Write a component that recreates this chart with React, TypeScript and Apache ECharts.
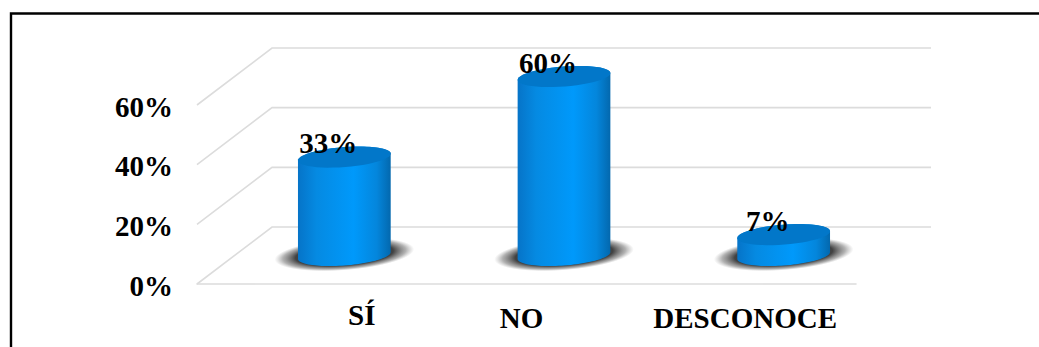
import React, { useEffect, useRef } from "react";
import * as echarts from "echarts";

const categories = ["SÍ", "NO", "DESCONOCE"];
const shares = [33, 60, 7];
const yTicks = [0, 20, 40, 60];

const WIDTH = 1039;
const HEIGHT = 347;
const FONT = '"Liberation Serif", "Times New Roman", serif';

// Oblique projection of the chart's depth: the back wall sits up and to the right.
const DEPTH_X = 75;
const DEPTH_Y = 57;
const RX = 46.5;
const RY = 10;
const TILT = (-4.4 * Math.PI) / 180;

// A point on the tilted ellipse that forms a cylinder's cap or base.
function ellipsePoint(cx: number, cy: number, t: number): number[] {
  const ex = RX * Math.cos(t);
  const ey = RY * Math.sin(t);
  return [
    cx + ex * Math.cos(TILT) - ey * Math.sin(TILT),
    cy + ex * Math.sin(TILT) + ey * Math.cos(TILT),
  ];
}

function arcPoints(cx: number, cy: number, from: number, to: number): number[][] {
  const steps = 48;
  const pts: number[][] = [];
  for (let i = 0; i <= steps; i++) {
    pts.push(ellipsePoint(cx, cy, from + ((to - from) * i) / steps));
  }
  return pts;
}

const bodyFill = {
  type: "linear",
  x: 0,
  y: 0,
  x2: 1,
  y2: 0,
  colorStops: [
    { offset: 0, color: "#0674c8" },
    { offset: 0.2, color: "#058ae2" },
    { offset: 0.6, color: "#0099fb" },
    { offset: 0.85, color: "#0486dc" },
    { offset: 1, color: "#0368ae" },
  ],
};

const shadowFill = {
  type: "radial",
  x: 0.5,
  y: 0.5,
  r: 0.5,
  colorStops: [
    { offset: 0, color: "rgba(30,30,30,0.95)" },
    { offset: 0.7, color: "rgba(50,50,50,0.92)" },
    { offset: 0.88, color: "rgba(100,100,100,0.5)" },
    { offset: 1, color: "rgba(140,140,140,0)" },
  ],
};

// Floor, side wall and back wall lines for one tick of the value axis.
function renderWallLine(params: any, api: any) {
  const y = api.coord([0, api.value(1)])[1];
  const sys = params.coordSys;
  return {
    type: "polyline",
    shape: {
      points: [
        [sys.x, y],
        [sys.x + DEPTH_X, y - DEPTH_Y],
        [sys.x + sys.width + DEPTH_X, y - DEPTH_Y],
      ],
    },
    style: { stroke: "#dcdcdc", lineWidth: 1.6, fill: "none" },
  };
}

function renderCylinder(_params: any, api: any) {
  const value = api.value(1);
  const top = api.coord([api.value(0), value]);
  const base = api.coord([api.value(0), 0]);
  const cx = base[0] + DEPTH_X / 2;
  const baseY = base[1] - DEPTH_Y / 2;
  const topY = top[1] - DEPTH_Y / 2;
  const body = [
    ...arcPoints(cx, baseY, 0, Math.PI),
    ...arcPoints(cx, topY, Math.PI, 2 * Math.PI),
  ];
  return {
    type: "group",
    children: [
      {
        type: "ellipse",
        originX: cx,
        originY: baseY - 1,
        rotation: -TILT,
        shape: { cx: cx, cy: baseY - 1, rx: 70, ry: 16 },
        style: { fill: shadowFill },
      },
      { type: "polygon", shape: { points: body }, style: { fill: bodyFill } },
      {
        type: "polygon",
        shape: { points: arcPoints(cx, topY, 0, 2 * Math.PI) },
        style: { fill: "#0277c9" },
      },
      {
        type: "text",
        style: {
          x: cx - 16,
          y: topY - 14,
          text: value + "%",
          font: "bold 29px " + FONT,
          fill: "#000",
          align: "center",
          verticalAlign: "middle",
        },
      },
    ],
  };
}

const labelStyle = { fontFamily: FONT, fontWeight: "bold", fontSize: 29, color: "#000" };

export default function App() {
  const ref = useRef<HTMLDivElement>(null);

  useEffect(() => {
    if (!ref.current) return;
    const chart = echarts.init(ref.current, undefined, { renderer: "svg" });
    chart.setOption({
      animation: false,
      backgroundColor: "#fff",
      grid: { left: 197, top: 105, width: 659, height: 179 },
      graphic: [
        {
          type: "polyline",
          silent: true,
          shape: {
            points: [
              [11, HEIGHT],
              [11, 13.5],
              [WIDTH, 13.5],
            ],
          },
          style: { stroke: "#000", lineWidth: 2.4, fill: "none" },
        },
      ],
      xAxis: {
        type: "category",
        data: categories,
        axisLine: { show: true, lineStyle: { color: "#dcdcdc", width: 1.6 } },
        axisTick: { show: false },
        axisLabel: {
          interval: 0,
          margin: 16,
          formatter: (name: string) => {
            const key = ["si", "no", "desc"][categories.indexOf(name)];
            return "{" + key + "|" + name + "}";
          },
          rich: {
            si: { ...labelStyle, padding: [0, 0, 0, 110] },
            no: { ...labelStyle, padding: [3, 10, 0, 0] },
            desc: { ...labelStyle, padding: [3, 2, 0, 0] },
          },
        },
      },
      yAxis: {
        type: "value",
        min: 0,
        max: 60,
        interval: 20,
        axisLine: { show: false },
        axisTick: { show: false },
        splitLine: { show: false },
        axisLabel: {
          margin: 24,
          formatter: (value: number) => "{tick|" + value + "%}",
          rich: { tick: { ...labelStyle, padding: [3, 0, 0, 0] } },
        },
      },
      series: [
        {
          type: "custom",
          silent: true,
          clip: false,
          renderItem: renderWallLine,
          data: yTicks.map((t) => [0, t]),
        },
        {
          type: "custom",
          silent: true,
          clip: false,
          renderItem: renderCylinder,
          data: shares.map((v, i) => [i, v]),
        },
      ],
    });
    return () => chart.dispose();
  }, []);

  return (
    <div
      ref={ref}
      style={{ position: "fixed", left: 0, top: 0, width: WIDTH, height: HEIGHT }}
    />
  );
}
